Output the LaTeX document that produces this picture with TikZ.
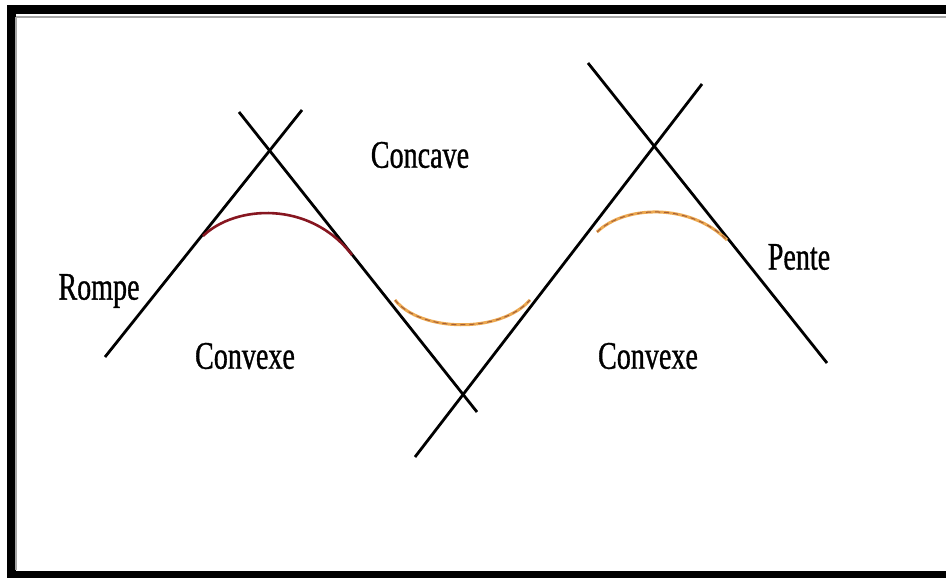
\documentclass[tikz,border=0pt]{standalone}
\usepackage{fontspec}
\setmainfont{Liberation Serif}[FakeStretch=0.72,FakeBold=0.8]
\definecolor{arcred}{RGB}{135,22,32}
\definecolor{arcorange}{RGB}{236,168,80}
\definecolor{arcbrown}{RGB}{165,95,55}
\tikzset{
  tangent/.style={line width=2.8pt,black},
  lbl/.style={inner sep=0pt,font=\fontsize{39}{44}\selectfont},
  redarc/.style={line width=2.6pt,arcred},
  orangearc/.style={line width=3pt,arcorange},
  dasharc/.style={line width=1pt,arcbrown,dash pattern=on 5pt off 4pt}
}
\begin{document}
\begin{tikzpicture}[x=1pt,y=-1pt]
\useasboundingbox (0,0) rectangle (946,578);
\begin{scope}
\clip (0,0) rectangle (946,578);
\fill[white] (0,0) rectangle (946,578);
\draw[line width=9pt] (11.5,9.5) rectangle (970,575.5);
\draw[gray!70,line width=1.5pt] (16,17) -- (946,17);
\draw[gray!70,line width=1.5pt] (16,17) -- (16,570);
\end{scope}
% tangent lines
\coordinate (l1a) at (105,357); \coordinate (l1b) at (302,110);
\coordinate (l2a) at (239,112); \coordinate (l2b) at (477,412);
\coordinate (l3a) at (415,457); \coordinate (l3b) at (702,84);
\coordinate (l4a) at (588,63);  \coordinate (l4b) at (827,363);
\draw[tangent] (l1a) -- (l1b);
\draw[tangent] (l2a) -- (l2b);
\draw[tangent] (l3a) -- (l3b);
\draw[tangent] (l4a) -- (l4b);
% curve pieces
\draw[redarc] (203,236) .. controls (235,205) and (310,200) .. (352,255);
\draw[orangearc] (395,300) .. controls (420,332) and (500,334) .. (530,300);
\draw[dasharc] (395,300) .. controls (420,332) and (500,334) .. (530,300);
\draw[orangearc] (597,232) .. controls (625,205) and (690,203) .. (727,240);
\draw[dasharc] (597,232) .. controls (625,205) and (690,203) .. (727,240);
% labels
\node[lbl] (concave) at (420,155) {Concave};
\node[lbl] (rompe) at (99,291) {Rompe};
\node[lbl] (convexeL) at (245,356) {Convexe};
\node[lbl] (convexeR) at (648,356) {Convexe};
\node[lbl] (pente) at (799,257) {Pente};
\end{tikzpicture}
\end{document}
